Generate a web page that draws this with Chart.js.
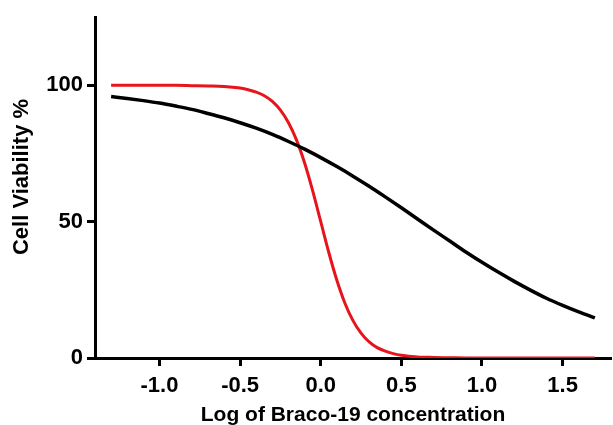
<!DOCTYPE html>
<html>
<head>
<meta charset="utf-8">
<script src="https://cdn.jsdelivr.net/npm/chart.js@4/dist/chart.umd.min.js"></script>
<style>
  html, body { margin: 0; padding: 0; background: #ffffff; }
  canvas { display: block; }
</style>
</head>
<body>
<canvas id="c" width="613" height="425"></canvas>
<script>
// ---- Data ----
const blackX = [-1.3,-1.2,-1.1,-1.0,-0.9,-0.8,-0.7,-0.6,-0.5,-0.4,-0.3,-0.2,-0.1,0.0,0.1,0.2,0.3,0.4,0.5,0.6,0.7,0.8,0.9,1.0,1.1,1.2,1.3,1.4,1.5,1.6,1.7];
const blackY = [95.9,95.2,94.4,93.5,92.4,91.2,89.7,88.1,86.3,84.3,82.0,79.4,76.6,73.5,70.2,66.7,63.0,59.1,55.1,51.0,46.9,42.9,38.9,35.1,31.5,28.1,24.9,21.9,19.3,16.9,14.7];

const redX = [-1.3,-1.2,-1.1,-1.0,-0.9,-0.8,-0.7,-0.6,-0.5,-0.45,-0.4,-0.35,-0.3,-0.25,-0.2,-0.15,-0.1,-0.05,0.0,0.05,0.1,0.15,0.2,0.25,0.3,0.35,0.4,0.45,0.5,0.6,0.7,0.8,0.9,1.0,1.1,1.2,1.3,1.4,1.5,1.6,1.7];
const redY = [100,100,100,100,100,99.9,99.8,99.6,99.0,98.4,97.5,96.2,94.1,90.9,86.3,79.9,71.5,61.3,50.0,38.7,28.5,20.1,13.7,9.1,5.9,3.8,2.5,1.6,1.0,0.4,0.2,0.1,0,0,0,0,0,0,0,0,0];

const xTicks = [-1.0, -0.5, 0.0, 0.5, 1.0, 1.5];
const yTicks = [0, 50, 100];

const xTitle = 'Log of Braco-19 concentration';
const yTitle = 'Cell Viability %';

// ---- Chart ----
const toPts = (xs, ys) => xs.map((x, i) => ({ x: x, y: ys[i] }));
const FONT = 'Liberation Sans, Arial, sans-serif';

// Y axis title drawn as canvas text, positioned like the reference
const yTitlePlugin = {
  id: 'yTitlePlugin',
  afterDraw(chart) {
    const ctx = chart.ctx;
    ctx.save();
    ctx.translate(21.5, 177);
    ctx.rotate(-Math.PI / 2);
    ctx.font = 'bold 22px ' + FONT;
    ctx.fillStyle = '#000';
    ctx.textAlign = 'center';
    ctx.textBaseline = 'middle';
    ctx.fillText(yTitle, 0, 0);
    ctx.restore();
  }
};

new Chart(document.getElementById('c'), {
  type: 'line',
  data: {
    datasets: [
      {
        data: toPts(blackX, blackY),
        borderColor: '#000000',
        borderWidth: 3.5,
        pointRadius: 0,
        fill: false,
        cubicInterpolationMode: 'monotone'
      },
      {
        data: toPts(redX, redY),
        borderColor: '#e8141b',
        borderWidth: 3,
        pointRadius: 0,
        fill: false,
        cubicInterpolationMode: 'monotone'
      }
    ]
  },
  plugins: [yTitlePlugin],
  options: {
    responsive: false,
    animation: false,
    devicePixelRatio: 1,
    layout: { padding: { top: 13, right: 2, left: 0, bottom: 0 } },
    plugins: { legend: { display: false }, tooltip: { enabled: false } },
    scales: {
      x: {
        type: 'linear',
        min: -1.4,
        max: 1.8,
        afterBuildTicks: s => { s.ticks = xTicks.map(v => ({ value: v })); },
        afterFit: s => { s.height = 67; },
        grid: { drawOnChartArea: false, drawTicks: true, tickLength: 8, tickWidth: 3, tickColor: '#000' },
        border: { color: '#000', width: 3 },
        ticks: {
          color: '#000', padding: 7, autoSkip: false, maxRotation: 0,
          font: { family: FONT, size: 22, weight: 'bold' },
          callback: v => Number(v).toFixed(1)
        },
        title: {
          display: true, text: xTitle, color: '#000',
          font: { family: FONT, size: 21, weight: 'bold' },
          padding: { top: 0, bottom: -3 }
        }
      },
      y: {
        type: 'linear',
        min: 0,
        max: 125,
        afterBuildTicks: s => { s.ticks = yTicks.map(v => ({ value: v })); },
        afterFit: s => { s.width = 95; },
        grid: { drawOnChartArea: false, drawTicks: true, tickLength: 8, tickWidth: 3, tickColor: '#000' },
        border: { color: '#000', width: 3 },
        ticks: {
          color: '#000', padding: 4,
          font: { family: FONT, size: 22, weight: 'bold' },
          callback: v => String(v)
        },
        title: { display: false }
      }
    }
  }
});
</script>
</body>
</html>
